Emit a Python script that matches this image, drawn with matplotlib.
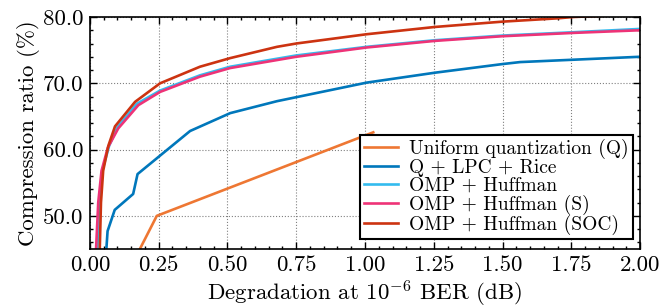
import matplotlib
matplotlib.use("Agg")
import matplotlib.pyplot as plt
from matplotlib.ticker import MultipleLocator, FormatStrFormatter

plt.rcParams.update({
    "font.family": "serif",
    "font.serif": ["cmr10"],
    "mathtext.fontset": "cm",
    "axes.formatter.use_mathtext": True,
    "font.size": 16.5,
})

# Uniform quantization (Q)
q_x = [0.12, 0.243, 1.03]
q_y = [40.0, 50.0, 62.6]

# Q + LPC + Rice
lpc_x = [0.058, 0.064, 0.09, 0.157, 0.173, 0.364, 0.51, 0.68, 1.006, 1.255, 1.50, 1.564, 2.0]
lpc_y = [44.0, 47.7, 50.9, 53.3, 56.3, 62.8, 65.5, 67.3, 70.1, 71.6, 72.9, 73.2, 74.0]

# OMP + Huffman
omp_x = [0.026, 0.033, 0.046, 0.07, 0.1, 0.17, 0.255, 0.4, 0.51, 0.75, 1.006, 1.255, 1.5, 1.757, 2.0]
omp_y = [44.0, 52.0, 57.0, 60.6, 63.4, 66.9, 68.9, 71.2, 72.5, 74.2, 75.5, 76.5, 77.2, 77.7, 78.2]

# OMP + Huffman (S)
omps_x = [0.021, 0.03, 0.042, 0.065, 0.103, 0.176, 0.255, 0.4, 0.51, 0.75, 1.006, 1.255, 1.5, 1.757, 2.0]
omps_y = [44.0, 52.0, 56.8, 60.3, 63.2, 66.7, 68.7, 71.0, 72.3, 74.0, 75.4, 76.4, 77.1, 77.6, 78.0]

# OMP + Huffman (SOC)
soc_x = [0.035, 0.04, 0.048, 0.067, 0.091, 0.164, 0.255, 0.4, 0.51, 0.68, 0.75, 1.006, 1.255, 1.5, 1.70, 1.757, 2.0]
soc_y = [44.0, 52.0, 56.8, 60.6, 63.5, 67.2, 70.0, 72.5, 73.8, 75.5, 76.0, 77.4, 78.5, 79.3, 79.8, 80.0, 80.4]

labels = ["Uniform quantization (Q)", "Q + LPC + Rice", "OMP + Huffman",
          "OMP + Huffman (S)", "OMP + Huffman (SOC)"]
colors = ["#EE7733", "#0077BB", "#33BBEE", "#EE3377", "#CC3311"]

fig = plt.figure(figsize=(6.64, 3.08), dpi=100)
ax = fig.add_axes([0.1355, 0.1916, 0.8284, 0.7532])

series = [(q_x, q_y), (lpc_x, lpc_y), (omp_x, omp_y), (omps_x, omps_y), (soc_x, soc_y)]
for (xs, ys), lab, c in zip(series, labels, colors):
    ax.plot(xs, ys, color=c, lw=1.9, label=lab)

ax.set_xlim(0, 2.0)
ax.set_ylim(45, 80)
ax.xaxis.set_major_locator(MultipleLocator(0.25))
ax.xaxis.set_minor_locator(MultipleLocator(0.05))
ax.yaxis.set_major_locator(MultipleLocator(10))
ax.yaxis.set_minor_locator(MultipleLocator(2))
ax.xaxis.set_major_formatter(FormatStrFormatter("%.2f"))
ax.yaxis.set_major_formatter(FormatStrFormatter("%.1f"))
ax.tick_params(which="both", direction="in", top=True, right=True, width=1.0)
ax.tick_params(which="major", length=5, pad=5)
ax.tick_params(which="minor", length=2.5)
for s in ax.spines.values():
    s.set_linewidth(1.2)
ax.grid(True, which="major", linestyle=":", color="gray", lw=0.8)

ax.set_xlabel(r"Degradation at $10^{-6}$ BER (dB)", labelpad=2.5)
ax.set_ylabel("Compression ratio (%)", labelpad=2)

leg = ax.legend(loc="lower right", bbox_to_anchor=(0.987, 0.043), borderaxespad=0,
                fancybox=False, framealpha=1, edgecolor="black",
                fontsize=14, handlelength=1.75, handletextpad=0.6,
                borderpad=0.2, labelspacing=0.0)
leg.get_frame().set_linewidth(1.5)

fig.savefig("out.png", dpi=100)
